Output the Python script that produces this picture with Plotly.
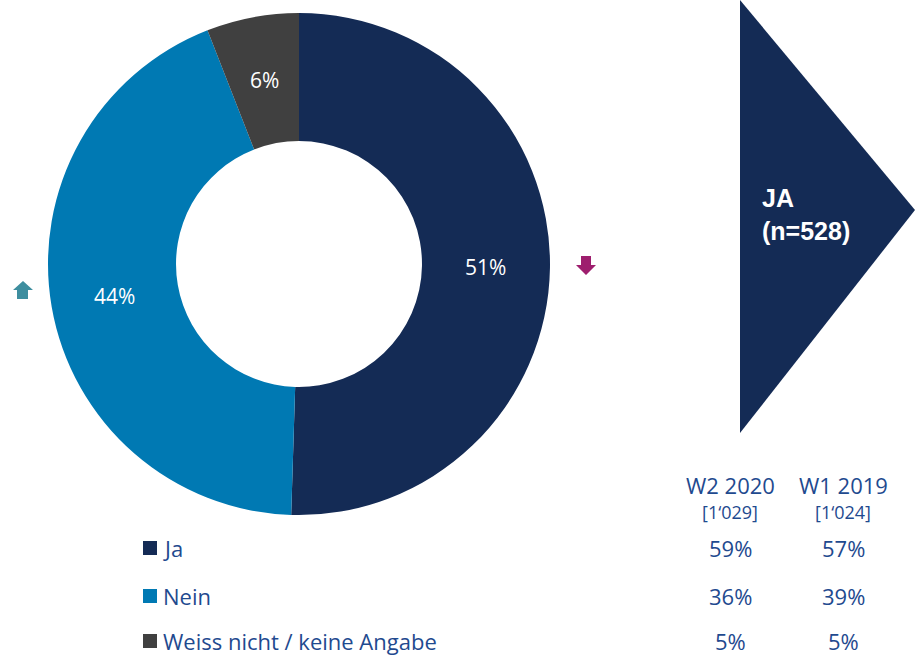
import math
import plotly.graph_objects as go

categories = ["Ja", "Nein", "Weiss nicht / keine Angabe"]
values = [51, 44, 6]
colors = ["#142B55", "#0079B3", "#404040"]
compare_headers = ["W2 2020", "W1 2019"]
compare_n = ["[1‘029]", "[1‘024]"]
compare_values = [[59, 36, 5], [57, 39, 5]]
subgroup_label = "JA"
subgroup_n = 528

W, H = 915, 656
TXT = "#1F4A8F"
FONT = "Open Sans"

# donut geometry (pixel space of the hidden helper axes)
CX, CY, R_OUT = 299, 264, 251
HOLE = 0.49

fig = go.Figure()
fig.add_trace(go.Pie(
    labels=categories, values=values, textinfo="none",
    marker=dict(colors=colors, line=dict(width=0)),
    hole=HOLE, sort=False, direction="clockwise", rotation=0,
    domain=dict(x=[(CX - R_OUT) / W, (CX + R_OUT) / W], y=[1 - (CY + R_OUT) / H, 1 - (CY - R_OUT) / H]),
    showlegend=False, hoverinfo="label+value",
))

fig.add_trace(go.Scatter(x=[0, W], y=[0, H], mode="markers", marker=dict(opacity=0),
                         showlegend=False, hoverinfo="skip"))

shapes = []
annotations = []

# slice labels at the middle of the ring, at each slice's mid angle
total = sum(values)
r_mid = R_OUT * (1 + HOLE) / 2
cum = 0
for v in values:
    ang = 2 * math.pi * (cum + v / 2) / total
    cum += v
    annotations.append(dict(x=CX + r_mid * math.sin(ang), y=CY - r_mid * math.cos(ang), xref="x", yref="y",
                            text=f"{v}%", showarrow=False, xanchor="center", yanchor="middle",
                            font=dict(size=21, color="white", family=FONT)))

row_y = [548, 596, 641]
for i, (cat, col) in enumerate(zip(categories, colors)):
    y = row_y[i]
    shapes.append(dict(type="rect", xref="x", yref="y", x0=143, x1=157, y0=y - 7, y1=y + 7,
                       fillcolor=col, line=dict(width=0)))
    annotations.append(dict(x=161, y=y, xref="x", yref="y", text=cat, showarrow=False,
                            xanchor="left", yanchor="middle", font=dict(size=22, color=TXT, family=FONT)))

col_x = [730, 843]
for j in range(2):
    annotations.append(dict(x=col_x[j], y=485, xref="x", yref="y", text=compare_headers[j], showarrow=False,
                            xanchor="center", yanchor="middle", font=dict(size=22, color=TXT, family=FONT)))
    annotations.append(dict(x=col_x[j], y=512, xref="x", yref="y", text=compare_n[j], showarrow=False,
                            xanchor="center", yanchor="middle", font=dict(size=18, color=TXT, family=FONT)))
    for i in range(3):
        annotations.append(dict(x=col_x[j], y=row_y[i], xref="x", yref="y", text=f"{compare_values[j][i]}%",
                                showarrow=False, xanchor="center", yanchor="middle",
                                font=dict(size=22, color=TXT, family=FONT)))

shapes.append(dict(type="path", xref="x", yref="y", path="M 740 0 L 915 210 L 740 433 Z",
                   fillcolor="#142B55", line=dict(width=0)))
annotations.append(dict(x=760, y=214, xref="x", yref="y",
                        text=f"<b>{subgroup_label}<br>(n={subgroup_n})</b>", showarrow=False,
                        xanchor="left", yanchor="middle", align="left",
                        font=dict(size=25, color="white", family="Liberation Sans")))

up = "M 23 281 L 33 290 L 28 290 L 28 299 L 17 299 L 17 290 L 13 290 Z"
down = "M 581 256 L 591 256 L 591 265 L 596 265 L 586 275 L 576 265 L 581 265 Z"
shapes.append(dict(type="path", xref="x", yref="y", path=up, fillcolor="#3E8E9F", line=dict(width=0)))
shapes.append(dict(type="path", xref="x", yref="y", path=down, fillcolor="#9E1E6E", line=dict(width=0)))

fig.update_layout(
    width=W, height=H, margin=dict(l=0, r=0, t=0, b=0),
    paper_bgcolor="white", plot_bgcolor="rgba(0,0,0,0)",
    xaxis=dict(range=[0, W], visible=False, domain=[0, 1], fixedrange=True),
    yaxis=dict(range=[H, 0], visible=False, domain=[0, 1], fixedrange=True),
    shapes=shapes, annotations=annotations,
)
fig.write_html("out.html", config={"displayModeBar": False},
               post_script="document.body.style.margin='0';document.body.style.overflow='hidden';")
